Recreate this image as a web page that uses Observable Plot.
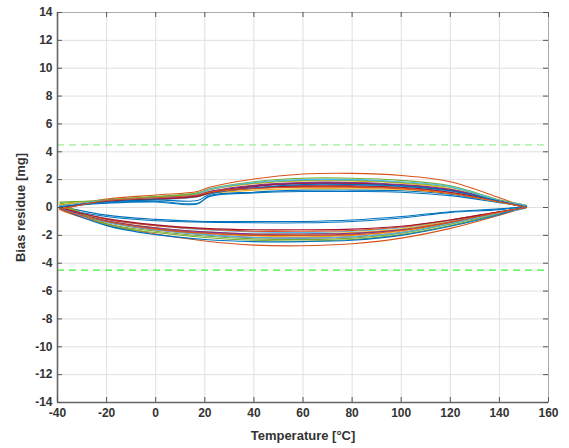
<!DOCTYPE html>
<html>
<head>
<meta charset="utf-8">
<script src="https://cdn.jsdelivr.net/npm/d3@7"></script>
<script src="https://cdn.jsdelivr.net/npm/@observablehq/plot@0.6"></script>
<style>
  body { margin: 0; background: #fff; }
  #chart svg { display: block; }
</style>
</head>
<body>
<div id="chart"></div>
<script>
// Temperatures at which the heating (upper) branch was read
const upperX = [-39, -20, 0, 17, 22, 40, 60, 80, 100, 120, 140, 151];
// Temperatures at which the cooling (lower) branch was read
const lowerX = [151, 140, 120, 100, 80, 60, 40, 20, 0, -20, -39];

// Bias residue [mg] per cycle, upper branch values
const upperY = [
  [0.10, 0.35, 0.45, 0.30, 0.80, 1.05, 1.15, 1.15, 1.10, 0.85, 0.35, 0.05],
  [0.00, 0.60, 0.90, 1.15, 1.45, 2.05, 2.40, 2.45, 2.30, 1.85, 0.70, 0.00],
  [0.20, 0.50, 0.75, 0.95, 1.25, 1.70, 1.90, 1.90, 1.75, 1.35, 0.50, 0.10],
  [0.10, 0.45, 0.60, 0.80, 1.05, 1.50, 1.70, 1.70, 1.55, 1.20, 0.45, 0.00],
  [0.30, 0.55, 0.80, 1.05, 1.35, 1.85, 2.10, 2.10, 1.95, 1.55, 0.55, 0.10],
  [0.00, 0.40, 0.55, 0.75, 1.00, 1.40, 1.60, 1.60, 1.50, 1.15, 0.45, 0.05],
  [-0.10, 0.45, 0.65, 0.85, 1.10, 1.55, 1.75, 1.75, 1.60, 1.25, 0.45, 0.00],
  [0.05, 0.30, 0.40, 0.25, 0.85, 1.10, 1.25, 1.25, 1.20, 0.95, 0.40, 0.10],
  [0.00, 0.50, 0.70, 0.90, 1.15, 1.40, 1.50, 1.50, 1.40, 1.05, 0.40, 0.00],
  [0.20, 0.45, 0.60, 0.80, 1.00, 1.25, 1.35, 1.35, 1.30, 1.00, 0.40, 0.10],
  [0.10, 0.45, 0.65, 0.85, 1.15, 1.60, 1.80, 1.80, 1.65, 1.30, 0.50, 0.05],
  [0.40, 0.50, 0.75, 1.00, 1.30, 1.75, 1.95, 1.95, 1.80, 1.45, 0.50, 0.15],
  [0.10, 0.50, 0.70, 0.95, 1.30, 1.80, 2.00, 2.00, 1.85, 1.50, 0.50, 0.10],
  [0.00, 0.45, 0.60, 0.80, 1.05, 1.40, 1.55, 1.55, 1.45, 1.10, 0.45, 0.00],
  [0.05, 0.40, 0.55, 0.50, 0.95, 1.40, 1.65, 1.65, 1.55, 1.20, 0.45, 0.05],
  [-0.15, 0.50, 0.70, 0.90, 1.10, 1.35, 1.45, 1.45, 1.35, 1.00, 0.40, 0.00]
];

// Bias residue [mg] per cycle, lower branch values
const lowerY = [
  [0.05, -0.10, -0.30, -0.65, -0.90, -1.00, -1.00, -1.00, -0.85, -0.55, 0.10],
  [0.00, -0.55, -1.50, -2.20, -2.60, -2.75, -2.70, -2.40, -1.90, -1.20, -0.10],
  [0.10, -0.35, -1.10, -1.70, -2.00, -2.10, -2.05, -1.85, -1.50, -1.00, 0.20],
  [0.00, -0.35, -1.00, -1.60, -1.90, -2.00, -1.95, -1.80, -1.50, -0.95, 0.10],
  [0.05, -0.45, -1.30, -1.95, -2.30, -2.40, -2.35, -2.15, -1.80, -1.25, 0.30],
  [0.00, -0.30, -0.95, -1.45, -1.70, -1.80, -1.75, -1.60, -1.30, -0.85, 0.00],
  [0.00, -0.40, -1.15, -1.80, -2.10, -2.20, -2.15, -1.95, -1.60, -1.05, -0.10],
  [0.10, -0.15, -0.35, -0.75, -1.00, -1.10, -1.10, -1.05, -0.95, -0.65, 0.00],
  [0.00, -0.30, -0.90, -1.40, -1.65, -1.70, -1.70, -1.55, -1.30, -0.85, 0.00],
  [0.10, -0.40, -1.00, -1.55, -1.80, -1.90, -1.90, -1.75, -1.45, -0.95, 0.15],
  [0.00, -0.35, -1.05, -1.60, -1.85, -1.90, -1.90, -1.75, -1.45, -0.95, 0.05],
  [0.10, -0.40, -1.20, -1.85, -2.20, -2.30, -2.25, -2.05, -1.70, -1.15, 0.40],
  [0.00, -0.40, -1.15, -1.80, -2.10, -2.20, -2.15, -1.95, -1.60, -1.05, 0.00],
  [0.00, -0.30, -0.90, -1.35, -1.55, -1.60, -1.60, -1.50, -1.25, -0.80, 0.00],
  [0.10, -0.50, -1.35, -2.00, -2.35, -2.45, -2.45, -2.30, -1.95, -1.30, 0.00],
  [0.00, -0.35, -1.05, -1.65, -1.95, -2.00, -2.00, -1.85, -1.55, -1.00, -0.15]
];

// MATLAB default line colour order
const colorOrder = ["#0072BD", "#D95319", "#EDB120", "#7E2F8E", "#77AC30", "#4DBEEE", "#A2142F"];

const xTicks = [-40, -20, 0, 20, 40, 60, 80, 100, 120, 140, 160];
const yTicks = [-14, -12, -10, -8, -6, -4, -2, 0, 2, 4, 6, 8, 10, 12, 14];
const limits = [4.5, -4.5];

// Build the line table
const rows = [];
upperY.forEach((u, i) => {
  const c = colorOrder[i % colorOrder.length];
  let k = 0;
  upperX.forEach((x, j) => rows.push({id: i, k: k++, x, y: u[j], c}));
  lowerX.forEach((x, j) => rows.push({id: i, k: k++, x, y: lowerY[i][j], c}));
  rows.push({id: i, k: k++, x: upperX[0], y: u[0], c});
});

const W = 569, H = 448;
const mL = 57, mR = 21, mT = 12, mB = 46;
const fw = W - mL - mR, fh = H - mT - mB;
const font = "'Liberation Sans', Arial, sans-serif";
const fmt = d => String(d);

const chart = Plot.plot({
  width: W,
  height: H,
  marginLeft: mL,
  marginRight: mR,
  marginTop: mT,
  marginBottom: mB,
  style: {fontFamily: font, background: "#fff", overflow: "visible"},
  x: {domain: [-40, 160]},
  y: {domain: [-14, 14]},
  marks: [
    Plot.gridX(xTicks, {stroke: "#e0e0e0", strokeOpacity: 1, strokeWidth: 1}),
    Plot.gridY(yTicks, {stroke: "#e0e0e0", strokeOpacity: 1, strokeWidth: 1}),
    Plot.ruleY([limits[0]], {stroke: "#9ff09a", strokeWidth: 1.3, strokeDasharray: "7,5"}),
    Plot.ruleY([limits[1]], {stroke: "#3cf03c", strokeWidth: 1.3, strokeDasharray: "7,5"}),
    Plot.line(rows, {x: "x", y: "y", z: "id", stroke: "c", strokeWidth: 1.1, curve: "catmull-rom", sort: "k"}),
    // box
    Plot.frame({stroke: "#aaaaaa", strokeWidth: 1}),
    Plot.ruleY([-14], {stroke: "#666666", strokeWidth: 1.6}),
    Plot.ruleX([-40], {stroke: "#666666", strokeWidth: 1.6}),
    // inward ticks
    Plot.tickX(xTicks, {x: d => d, insetTop: fh - 5, stroke: "#555"}),
    Plot.tickX(xTicks, {x: d => d, insetBottom: fh - 5, stroke: "#555"}),
    Plot.tickY(yTicks, {y: d => d, insetRight: fw - 5, stroke: "#555"}),
    Plot.tickY(yTicks, {y: d => d, insetLeft: fw - 5, stroke: "#555"}),
    Plot.axisX(xTicks, {tickSize: 0, tickPadding: 6, fontSize: 12, fontWeight: "bold", fill: "#333",
      tickFormat: fmt, label: "Temperature [°C]", labelAnchor: "center", labelOffset: 37, labelArrow: "none"}),
    Plot.axisY(yTicks, {tickSize: 0, tickPadding: 5, fontSize: 12, fontWeight: "bold", fill: "#333",
      tickFormat: fmt, label: "Bias residue [mg]", labelAnchor: "center", labelOffset: 42, labelArrow: "none"})
  ]
});

document.getElementById("chart").appendChild(chart);
chart.querySelectorAll("text").forEach(t => {
  if (/Temperature|Bias/.test(t.textContent)) {
    t.setAttribute("font-size", "13");
    t.setAttribute("font-weight", "bold");
    t.setAttribute("fill", "#333");
  }
});
</script>
</body>
</html>
